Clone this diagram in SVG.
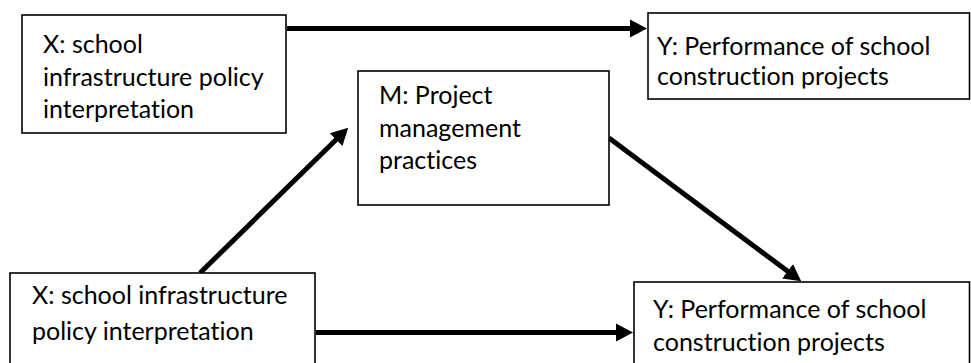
<svg xmlns="http://www.w3.org/2000/svg" width="971" height="363" viewBox="0 0 971 363">
<style>
.box{fill:#fff;stroke:#000;stroke-width:1.6}
.t{font-family:Lato,"Open Sans","Liberation Sans",sans-serif;font-size:25px;fill:#000;font-variant-ligatures:none;font-feature-settings:"liga" 0,"clig" 0,"dlig" 0}
.c{fill:none;stroke:#000;stroke-width:5}
</style>
<defs>
<marker id="ah" markerUnits="userSpaceOnUse" markerWidth="17" markerHeight="20" viewBox="0 -10 17 20" refX="1" refY="0" orient="auto">
<path d="M0,-9 L17,0 L0,9 z" fill="#000"/>
</marker>
<clipPath id="cy1"><rect x="640" y="10" width="331" height="78.5"/></clipPath>
</defs>
<rect width="971" height="363" fill="#fff"/>
<g id="connectors">
<line class="c" x1="287" y1="28.5" x2="631" y2="28.5" marker-end="url(#ah)"/>
<line class="c" x1="316" y1="332.5" x2="617" y2="332.5" marker-end="url(#ah)"/>
<line class="c" x1="200" y1="273" x2="336.8" y2="139" marker-end="url(#ah)"/>
<line class="c" x1="609" y1="138" x2="788.4" y2="271.8" marker-end="url(#ah)"/>
</g>
<g id="x1">
<rect class="box" x="22" y="15" width="264" height="118"/>
<text class="t" x="43" y="53">X: school</text>
<text class="t" x="43" y="85.5">infrastructure policy</text>
<text class="t" x="43" y="118">interpretation</text>
</g>
<g id="y1">
<rect class="box" x="648" y="13" width="321.5" height="86"/>
<g clip-path="url(#cy1)">
<text class="t" x="657" y="55">Y: Performance of school</text>
<text class="t" x="657" y="85">construction projects</text>
</g>
</g>
<g id="m">
<rect class="box" x="358" y="71" width="251" height="134"/>
<text class="t" x="379" y="104">M: Project</text>
<text class="t" x="379" y="136.5">management</text>
<text class="t" x="379" y="169">practices</text>
</g>
<g id="x2">
<rect class="box" x="10" y="273" width="305" height="100"/>
<text class="t" x="32" y="304">X: school infrastructure</text>
<text class="t" x="32" y="340">policy interpretation</text>
</g>
<g id="y2">
<rect class="box" x="634" y="282" width="335.5" height="91"/>
<text class="t" x="653" y="318">Y: Performance of school</text>
<text class="t" x="653" y="351">construction projects</text>
</g>
</svg>
